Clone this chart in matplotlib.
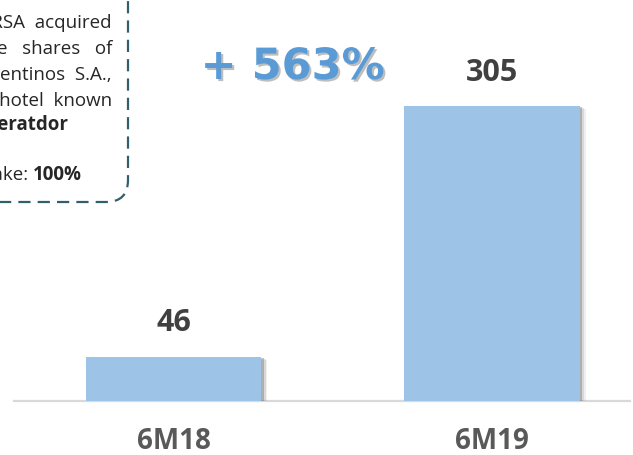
import matplotlib
matplotlib.use("Agg")
import matplotlib.pyplot as plt
import matplotlib.patheffects as pe
from matplotlib.patches import FancyBboxPatch
from matplotlib.transforms import Affine2D

categories = ["6M18", "6M19"]
values = [46, 305]
growth_label = "+ 563%"
box_lines = ["IRSA  acquired", "100% of the   shares   of", "Hoteles  Argentinos  S.A.,", "owner of the  hotel  known"]
box_bold_line = "Liberatdor"
stake_prefix = "IRSA stake: "
stake_value = "100%"

W, H = 633, 455
fig = plt.figure(figsize=(W / 100, H / 100), dpi=100)
fig.patch.set_facecolor("white")

# pixel transform (origin top-left)
pxT = Affine2D().scale(1 / W, -1 / H).translate(0, 1) + fig.transFigure

base_y = 401
ax_left, ax_right = 14, 630
ax = fig.add_axes([ax_left / W, (H - base_y) / H, (ax_right - ax_left) / W, base_y / H])
ax.set_facecolor("none")
ax.set_xlim(-0.5008, 1.4333)
ax.set_ylim(0, 414.6)
for s in ["top", "right", "left"]:
    ax.spines[s].set_visible(False)
ax.spines["bottom"].set_color("#d9d9d9")
ax.spines["bottom"].set_linewidth(1.6)
ax.set_yticks([])
ax.set_xticks([])

xs = list(range(len(categories)))
shadow = [
    pe.SimplePatchShadow(offset=(4.5, -2.2), shadow_rgbFace="#808080", alpha=0.12),
    pe.SimplePatchShadow(offset=(3.2, -1.6), shadow_rgbFace="#808080", alpha=0.2),
    pe.SimplePatchShadow(offset=(1.8, -1.0), shadow_rgbFace="#606060", alpha=0.35),
    pe.Normal(),
]
bars = ax.bar(xs, values, width=0.551, color="#9dc3e6", zorder=3)
for b in bars:
    b.set_path_effects(shadow)

for x, v in zip(xs, values):
    ax.annotate(str(v), xy=(x, v), xytext=(0, 24.1), textcoords="offset points",
                ha="center", va="center", fontsize=22, fontweight="bold",
                color="#404040", family="Open Sans")
    ax.annotate(categories[x], xy=(x, 0), xytext=(0, -29.5), textcoords="offset points",
                ha="center", va="center", fontsize=20, fontweight="bold",
                color="#595959", family="Open Sans", annotation_clip=False)

# growth label
fig.text(292.5, 67, growth_label, transform=pxT, ha="center", va="center",
         fontsize=31, fontweight="bold", color="#5b9bd5", family="DejaVu Sans",
         path_effects=[pe.SimplePatchShadow(offset=(1.5, -1.5), shadow_rgbFace="#7f7f7f", alpha=0.5),
                       pe.Normal()])

# dashed rounded box (partially off-canvas)
box = FancyBboxPatch((-300, H - 202), 428, 222, boxstyle="round,pad=0,rounding_size=22",
                     transform=Affine2D().scale(1 / W, 1 / H) + fig.transFigure,
                     facecolor="none", edgecolor="#31606c", linewidth=1.6,
                     linestyle=(0, (5.5, 3.2)), clip_on=False)
fig.patches.append(box)

fs = 13.5
ys = [23, 49, 75, 101]
for t, y in zip(box_lines, ys):
    fig.text(112, y, t, transform=pxT, ha="right", va="center", fontsize=fs,
             color="#262626", family="Open Sans")
fig.text(68, 125, box_bold_line, transform=pxT, ha="right", va="center", fontsize=fs,
         fontweight="bold", color="#262626", family="Open Sans")
sv = fig.text(82, 175, stake_value, transform=pxT, ha="right", va="center", fontsize=fs,
              fontweight="bold", color="#262626", family="Open Sans")
ax.annotate(stake_prefix, xy=(0, 0.5), xycoords=sv, ha="right", va="center",
            fontsize=fs, color="#262626", family="Open Sans", annotation_clip=False)

fig.savefig("out.png", dpi=100, facecolor="white")
